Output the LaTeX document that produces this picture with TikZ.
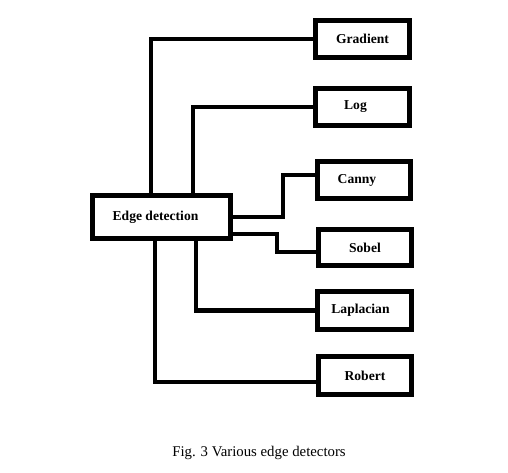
\documentclass[tikz,border=0pt]{standalone}
\usepackage{fontspec}
\setmainfont{Liberation Serif}
\begin{document}
\begin{tikzpicture}[x=1pt,y=-1pt,
  box/.style={draw,line width=5pt,fill=white,inner sep=0pt,minimum width=94pt,minimum height=37pt,
    font=\fontsize{13.6}{16}\selectfont\bfseries},
  wire/.style={line width=4.5pt,line join=miter}]
\useasboundingbox (0,0) rectangle (508,472);
\node[box,minimum width=138pt,minimum height=43pt] (edge) at (161.5,217) {\hspace*{-12pt}Edge detection};
\node[box] (grad) at (362.5,39) {Gradient};
\node[box] (log) at (362.5,107) {\hspace*{-14pt}Log};
\node[box,minimum width=93pt] (canny) at (364,180) {\hspace*{-14pt}Canny};
\node[box,minimum width=93pt,minimum height=36pt] (sobel) at (365,247.5) {Sobel};
\node[box,minimum height=38pt] (lap) at (364.5,310.5) {\hspace*{-8pt}Laplacian};
\node[box,minimum width=93pt,minimum height=38pt] (rob) at (365,375.5) {Robert};
\coordinate (c1) at (283,175);
\coordinate (c2) at (277,252);
\draw[wire] ([xshift=-10.5pt]edge.north) |- (grad.west);
\draw[wire] ([xshift=31.5pt]edge.north) |- (log.west);
\draw[wire] (edge.east) -| (c1) -- (canny.west |- c1);
\draw[wire] ([yshift=-17pt]edge.east) -| (c2) -- (sobel.west |- c2);
\draw[wire] ([xshift=34.5pt]edge.south) |- (lap.west);
\draw[wire] ([xshift=-6.5pt]edge.south) |- ([yshift=-6.5pt]rob.west);
\node[font=\fontsize{14.8}{17}\selectfont] (cap) at (259,453) {Fig. 3 Various edge detectors};
\end{tikzpicture}
\end{document}
